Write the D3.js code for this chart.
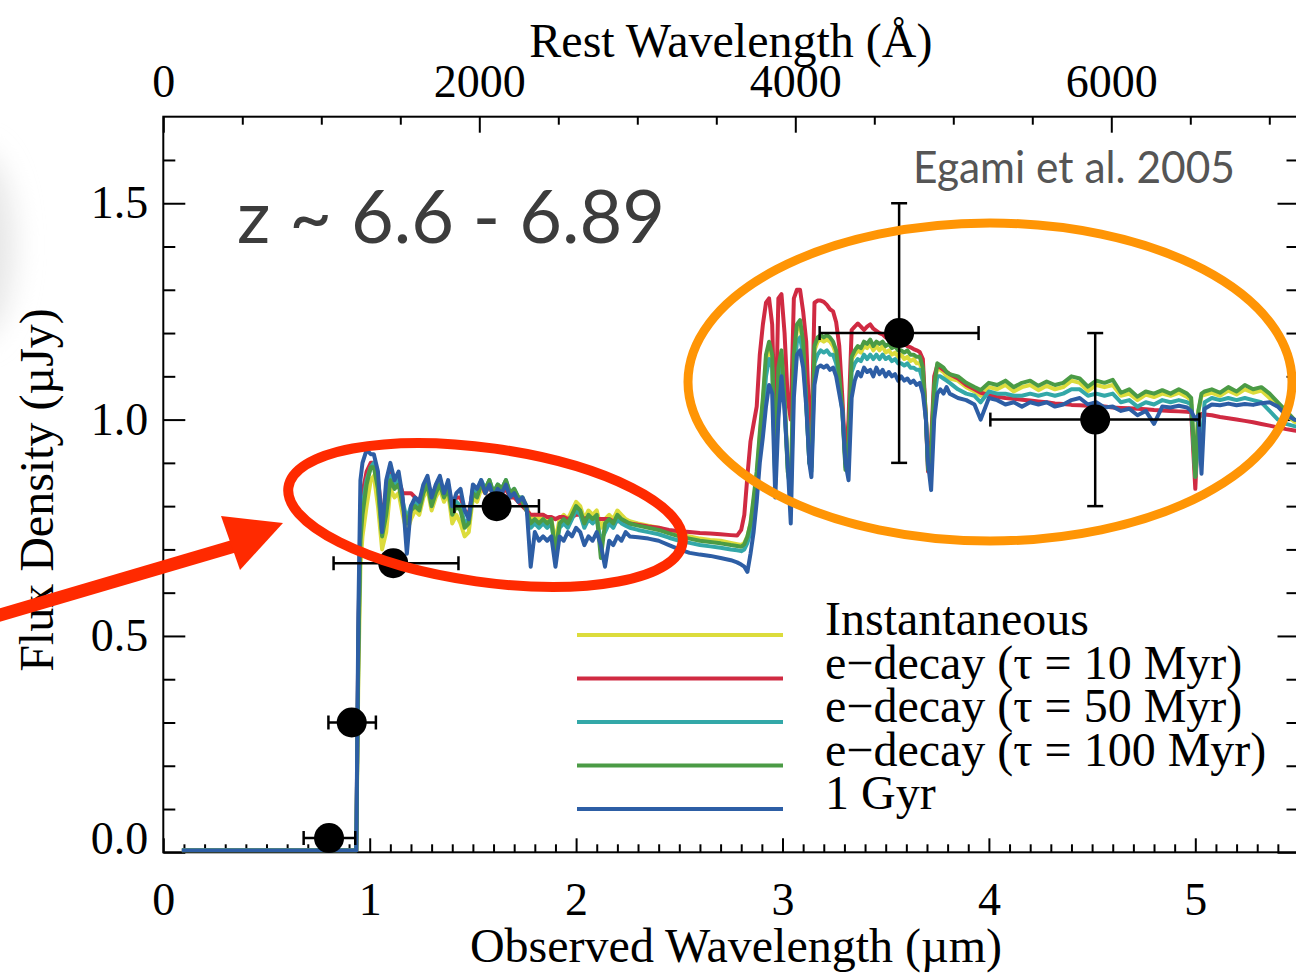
<!DOCTYPE html>
<html>
<head>
<meta charset="utf-8">
<script src="https://cdn.jsdelivr.net/npm/d3@7"></script>
<style>
  html, body { margin: 0; padding: 0; background: #fff; }
  svg { display: block; }
</style>
</head>
<body>
<svg id="chart" width="1296" height="976"></svg>
<script>
// Observed-frame wavelength grid of the model spectra (µm)
const wavelength = [
  0.09, 0.925, 0.935, 0.945, 0.955, 0.965, 0.985, 1.005,
  1.02, 1.04, 1.06, 1.08, 1.10, 1.12, 1.14, 1.16, 1.18, 1.20, 1.22, 1.24, 1.26, 1.28, 1.30, 1.32, 1.34, 1.36, 1.38, 1.40, 1.42, 1.44, 1.46, 1.48, 1.50, 1.52, 1.54, 1.56, 1.58, 1.60, 1.62, 1.64, 1.66, 1.68, 1.70, 1.72, 1.74, 1.76,
  1.78, 1.80, 1.82, 1.84, 1.86, 1.88, 1.90, 1.92, 1.94, 1.96, 1.98, 2.00, 2.02, 2.04, 2.06, 2.08, 2.10, 2.12, 2.14, 2.16, 2.18, 2.20, 2.22, 2.24, 2.26,
  2.30, 2.35, 2.40, 2.45, 2.50, 2.55, 2.60, 2.65, 2.70, 2.75, 2.78,
  2.80, 2.815, 2.83, 2.845, 2.86, 2.875, 2.89, 2.905, 2.92, 2.935, 2.95, 2.965, 2.98, 2.995, 3.01, 3.025, 3.04, 3.055, 3.07, 3.085, 3.10, 3.115, 3.13,
  3.14,
  3.155, 3.17, 3.185, 3.20, 3.215, 3.23, 3.245, 3.26, 3.275, 3.29, 3.305, 3.32, 3.335, 3.35, 3.365, 3.38, 3.395, 3.41, 3.425, 3.44, 3.455, 3.47, 3.485, 3.50, 3.515, 3.53, 3.545, 3.56, 3.575, 3.59, 3.605, 3.62, 3.635, 3.65, 3.665, 3.68,
  3.695, 3.705,
  3.72, 3.735, 3.75, 3.765, 3.78, 3.795, 3.81,
  3.85, 3.89, 3.93, 3.96, 4.00, 4.04, 4.08, 4.12, 4.16, 4.20, 4.24, 4.28, 4.32, 4.36, 4.40, 4.44, 4.48, 4.52, 4.56, 4.60, 4.64, 4.68, 4.72, 4.76, 4.80, 4.84, 4.88, 4.92, 4.96, 4.98, 5.00, 5.015, 5.03, 5.045, 5.08, 5.12, 5.16, 5.20, 5.24, 5.28, 5.32, 5.36, 5.40, 5.44, 5.48, 5.52
];

// Model flux densities (µJy) for each star-formation history
const fluxInstantaneous = [
  0.004, 0.004, 0.004, 0.40, 0.66, 0.73, 0.80, 0.86,
  0.87, 0.80, 0.70, 0.74, 0.84, 0.82, 0.83, 0.78, 0.74, 0.77, 0.79, 0.78, 0.82, 0.84, 0.79, 0.82, 0.84, 0.81, 0.83, 0.76, 0.78, 0.76, 0.73, 0.74, 0.82, 0.81, 0.84, 0.83, 0.85, 0.82, 0.84, 0.83, 0.85, 0.82, 0.83, 0.82, 0.82, 0.80,
  0.77, 0.78, 0.77, 0.78, 0.77, 0.77, 0.72, 0.77, 0.78, 0.77, 0.79, 0.81, 0.80, 0.77, 0.79, 0.78, 0.79, 0.75, 0.77, 0.78, 0.77, 0.79, 0.78, 0.77, 0.765,
  0.76, 0.755, 0.75, 0.742, 0.735, 0.73, 0.725, 0.722, 0.72, 0.715, 0.712,
  0.71, 0.715, 0.73, 0.76, 0.81, 0.87, 0.96, 1.04, 1.13, 1.17, 1.14, 0.87, 1.11, 1.15, 1.05, 0.90, 0.85, 1.13, 1.21, 1.22, 1.17, 1.05, 0.91,
  0.90,
  1.16, 1.18, 1.185, 1.18, 1.185, 1.18, 1.17, 1.15, 1.10, 1.03, 0.90, 0.95, 1.14, 1.15, 1.16, 1.155, 1.17, 1.165, 1.175, 1.16, 1.17, 1.16, 1.17, 1.155, 1.16, 1.15, 1.155, 1.145, 1.15, 1.14, 1.145, 1.135, 1.14, 1.13, 1.13, 1.11,
  1.01, 0.90,
  0.93, 1.07, 1.12, 1.115, 1.11, 1.10, 1.095,
  1.09, 1.075, 1.065, 1.055, 1.075, 1.07, 1.08, 1.065, 1.075, 1.08, 1.068, 1.078, 1.07, 1.075, 1.09, 1.085, 1.066, 1.08, 1.075, 1.08, 1.055, 1.06, 1.045, 1.058, 1.052, 1.06, 1.055, 1.062, 1.052, 1.045, 0.87, 1.02, 1.055, 1.057, 1.062, 1.055, 1.067, 1.058, 1.07, 1.062, 1.067, 1.05, 1.032, 1.012, 0.995, 0.99
];
const fluxTau10 = [
  0.004, 0.004, 0.004, 0.50, 0.78, 0.83, 0.88, 0.90,
  0.90, 0.86, 0.78, 0.82, 0.88, 0.85, 0.86, 0.83, 0.83, 0.83, 0.82, 0.81, 0.84, 0.86, 0.82, 0.84, 0.86, 0.83, 0.85, 0.80, 0.82, 0.82, 0.79, 0.78, 0.84, 0.83, 0.85, 0.83, 0.85, 0.82, 0.84, 0.83, 0.84, 0.82, 0.82, 0.81, 0.80, 0.79,
  0.78, 0.78, 0.78, 0.78, 0.775, 0.775, 0.77, 0.775, 0.775, 0.77, 0.775, 0.78, 0.78, 0.77, 0.775, 0.77, 0.77, 0.77, 0.77, 0.77, 0.765, 0.765, 0.765, 0.76, 0.76,
  0.757, 0.753, 0.75, 0.745, 0.742, 0.74, 0.738, 0.737, 0.735, 0.733, 0.732,
  0.745, 0.78, 0.87, 0.95, 0.99, 1.03, 1.15, 1.22, 1.27, 1.28, 1.22, 0.95, 1.28, 1.29, 1.20, 1.05, 1.00, 1.28, 1.30, 1.30, 1.25, 1.18, 1.00,
  0.95,
  1.27, 1.275, 1.275, 1.272, 1.265, 1.255, 1.25, 1.225, 1.17, 1.05, 0.90, 1.00, 1.207, 1.215, 1.222, 1.215, 1.207, 1.215, 1.22, 1.21, 1.205, 1.20, 1.197, 1.19, 1.19, 1.187, 1.185, 1.183, 1.18, 1.175, 1.17, 1.167, 1.163, 1.16, 1.156, 1.14,
  1.00, 0.88,
  0.95, 1.10, 1.125, 1.12, 1.115, 1.11, 1.105,
  1.095, 1.08, 1.07, 1.062, 1.057, 1.053, 1.05, 1.048, 1.046, 1.044, 1.042, 1.04, 1.037, 1.036, 1.034, 1.033, 1.032, 1.031, 1.03, 1.028, 1.027, 1.026, 1.025, 1.024, 1.022, 1.021, 1.02, 1.019, 1.018, 1.017, 0.84, 1.00, 1.013, 1.012, 1.01, 1.006, 1.003, 1.00, 0.997, 0.994, 0.99, 0.986, 0.982, 0.978, 0.975, 0.972
];
const fluxTau50 = [
  0.004, 0.004, 0.004, 0.48, 0.75, 0.80, 0.86, 0.89,
  0.90, 0.85, 0.74, 0.80, 0.87, 0.85, 0.86, 0.81, 0.77, 0.80, 0.81, 0.80, 0.84, 0.86, 0.81, 0.84, 0.86, 0.83, 0.85, 0.79, 0.81, 0.80, 0.76, 0.77, 0.84, 0.83, 0.86, 0.84, 0.86, 0.83, 0.85, 0.84, 0.86, 0.83, 0.84, 0.82, 0.82, 0.79,
  0.75, 0.76, 0.75, 0.76, 0.75, 0.76, 0.70, 0.75, 0.76, 0.75, 0.77, 0.79, 0.78, 0.75, 0.77, 0.76, 0.77, 0.72, 0.74, 0.76, 0.75, 0.77, 0.76, 0.755, 0.75,
  0.745, 0.74, 0.735, 0.727, 0.72, 0.715, 0.71, 0.707, 0.704, 0.70, 0.698,
  0.696, 0.70, 0.715, 0.74, 0.79, 0.85, 0.94, 1.01, 1.10, 1.14, 1.12, 0.85, 1.09, 1.13, 1.03, 0.89, 0.82, 1.10, 1.18, 1.19, 1.15, 1.04, 0.90,
  0.88,
  1.13, 1.15, 1.16, 1.155, 1.16, 1.15, 1.15, 1.13, 1.08, 1.02, 0.89, 0.92, 1.11, 1.13, 1.14, 1.135, 1.15, 1.14, 1.15, 1.14, 1.15, 1.14, 1.15, 1.14, 1.145, 1.135, 1.14, 1.13, 1.13, 1.125, 1.13, 1.12, 1.12, 1.115, 1.115, 1.09,
  1.00, 0.89,
  0.90, 1.05, 1.10, 1.10, 1.095, 1.09, 1.085,
  1.07, 1.06, 1.055, 1.04, 1.065, 1.06, 1.06, 1.055, 1.055, 1.06, 1.055, 1.06, 1.055, 1.06, 1.07, 1.07, 1.055, 1.06, 1.055, 1.06, 1.04, 1.045, 1.03, 1.04, 1.035, 1.045, 1.04, 1.045, 1.04, 1.035, 0.868, 0.95, 0.94, 1.04, 1.05, 1.045, 1.05, 1.045, 1.05, 1.045, 1.04, 1.02, 1.00, 0.99, 0.985, 0.98
];
const fluxTau100 = [
  0.004, 0.004, 0.004, 0.45, 0.72, 0.78, 0.85, 0.89,
  0.89, 0.84, 0.73, 0.78, 0.86, 0.84, 0.85, 0.80, 0.76, 0.79, 0.80, 0.79, 0.83, 0.85, 0.80, 0.83, 0.85, 0.82, 0.84, 0.78, 0.80, 0.79, 0.75, 0.76, 0.83, 0.82, 0.85, 0.84, 0.86, 0.83, 0.85, 0.84, 0.86, 0.83, 0.84, 0.82, 0.81, 0.79,
  0.76, 0.77, 0.76, 0.77, 0.76, 0.77, 0.69, 0.76, 0.77, 0.76, 0.78, 0.80, 0.79, 0.76, 0.78, 0.77, 0.78, 0.68, 0.76, 0.77, 0.76, 0.78, 0.77, 0.765, 0.76,
  0.755, 0.75, 0.745, 0.737, 0.73, 0.725, 0.72, 0.717, 0.714, 0.71, 0.708,
  0.706, 0.712, 0.73, 0.76, 0.82, 0.88, 0.97, 1.05, 1.15, 1.18, 1.15, 0.86, 1.12, 1.16, 1.05, 0.88, 0.84, 1.15, 1.22, 1.23, 1.18, 1.04, 0.90,
  0.89,
  1.17, 1.19, 1.195, 1.19, 1.195, 1.19, 1.18, 1.16, 1.10, 1.02, 0.884, 0.95, 1.145, 1.16, 1.17, 1.165, 1.18, 1.175, 1.185, 1.17, 1.18, 1.175, 1.18, 1.17, 1.175, 1.165, 1.17, 1.16, 1.16, 1.155, 1.16, 1.15, 1.15, 1.145, 1.145, 1.12,
  1.00, 0.884,
  0.93, 1.08, 1.13, 1.125, 1.12, 1.11, 1.105,
  1.10, 1.085, 1.075, 1.068, 1.085, 1.08, 1.09, 1.075, 1.085, 1.09, 1.078, 1.088, 1.08, 1.085, 1.10, 1.095, 1.076, 1.09, 1.085, 1.092, 1.062, 1.07, 1.053, 1.065, 1.06, 1.068, 1.06, 1.07, 1.06, 1.05, 0.868, 1.02, 1.06, 1.065, 1.07, 1.062, 1.075, 1.065, 1.08, 1.07, 1.075, 1.06, 1.04, 1.02, 1.00, 0.995
];
const flux1Gyr = [
  0.004, 0.004, 0.004, 0.55, 0.86, 0.90, 0.93, 0.92,
  0.92, 0.88, 0.74, 0.86, 0.90, 0.86, 0.88, 0.82, 0.69, 0.80, 0.82, 0.81, 0.85, 0.87, 0.82, 0.85, 0.87, 0.83, 0.86, 0.80, 0.83, 0.84, 0.79, 0.77, 0.85, 0.84, 0.86, 0.83, 0.85, 0.82, 0.84, 0.83, 0.85, 0.82, 0.83, 0.81, 0.82, 0.80,
  0.66, 0.74, 0.72, 0.73, 0.72, 0.73, 0.66, 0.73, 0.72, 0.74, 0.73, 0.75, 0.74, 0.71, 0.73, 0.72, 0.74, 0.71, 0.66, 0.72, 0.71, 0.73, 0.72, 0.74, 0.73,
  0.728, 0.725, 0.72, 0.71, 0.70, 0.692, 0.688, 0.685, 0.68, 0.675, 0.67,
  0.665, 0.66, 0.648, 0.69, 0.74, 0.81, 0.90, 0.96, 1.03, 1.08, 1.06, 0.82, 1.00, 1.10, 1.02, 0.90, 0.76, 1.05, 1.15, 1.16, 1.12, 1.03, 0.90,
  0.867,
  1.08, 1.12, 1.125, 1.12, 1.125, 1.115, 1.12, 1.10, 1.06, 1.02, 0.90, 0.86, 1.05, 1.09, 1.11, 1.10, 1.12, 1.11, 1.115, 1.10, 1.12, 1.105, 1.115, 1.10, 1.11, 1.10, 1.105, 1.09, 1.10, 1.09, 1.095, 1.085, 1.09, 1.08, 1.085, 1.06,
  1.00, 0.90,
  0.837, 1.00, 1.06, 1.07, 1.06, 1.075, 1.06,
  1.05, 1.045, 1.035, 1.00, 1.05, 1.045, 1.035, 1.04, 1.03, 1.04, 1.035, 1.04, 1.03, 1.035, 1.045, 1.05, 1.035, 1.04, 1.028, 1.03, 1.02, 1.025, 1.01, 1.02, 0.99, 1.03, 1.028, 1.032, 1.028, 1.02, 1.00, 1.01, 0.875, 1.025, 1.035, 1.033, 1.037, 1.033, 1.036, 1.034, 1.038, 1.04, 1.03, 1.01, 1.00, 0.995
];

const seriesNames = ["Instantaneous", "e\u2212decay (\u03c4 = 10 Myr)", "e\u2212decay (\u03c4 = 50 Myr)", "e\u2212decay (\u03c4 = 100 Myr)", "1 Gyr"];
const seriesValues = [fluxInstantaneous, fluxTau10, fluxTau50, fluxTau100, flux1Gyr];
const seriesColors = ["#dcdc3c", "#d02a42", "#33a8a8", "#4b9b45", "#2d5ea5"];

// Broad-band photometry (observed µm, µJy) with error ranges
const photWave = [0.803, 0.913, 1.114, 1.615, 3.565, 4.515];
const photFlux = [0.033, 0.30, 0.668, 0.80, 1.20, 1.00];
const photWaveLo = [0.68, 0.80, 0.825, 1.41, 3.18, 4.007];
const photWaveHi = [0.93, 1.03, 1.43, 1.82, 3.95, 5.02];
const photFluxLo = [0.033, 0.30, 0.668, 0.80, 0.90, 0.80];
const photFluxHi = [0.033, 0.30, 0.668, 0.80, 1.50, 1.20];

// Axis ticks
const obsTicks = [0, 1, 2, 3, 4, 5];
const restTicks = [0, 2000, 4000, 6000];
const fluxTicks = [0.0, 0.5, 1.0, 1.5];
const onePlusZ = 7.655;

const serif = "'Liberation Serif', 'Times New Roman', serif";
const sans = "Lato, 'Open Sans', sans-serif";

const svg = d3.select("#chart");
const plotLeft = 163.3, plotRight = 1298.5, plotTop = 116.7, plotBottom = 852.3;

const x = d3.scaleLinear().domain([0, 5.5]).range([plotLeft, plotRight]);
const xRest = d3.scaleLinear().domain([0, 5.5e4 / onePlusZ]).range([plotLeft, plotRight]);
const y = d3.scaleLinear().domain([0, 1.7]).range([plotBottom, plotTop]);

const defs = svg.append("defs");
defs.append("clipPath").attr("id", "plotClip")
  .append("rect")
  .attr("x", plotLeft).attr("y", plotTop)
  .attr("width", plotRight - plotLeft).attr("height", plotBottom - plotTop);
defs.append("filter").attr("id", "soft")
  .attr("x", "-100%").attr("y", "-100%").attr("width", "300%").attr("height", "300%")
  .append("feGaussianBlur").attr("stdDeviation", 14);

// faint grey shadow on the left slide edge
svg.append("ellipse")
  .attr("cx", -24).attr("cy", 245).attr("rx", 38).attr("ry", 95)
  .attr("fill", "#e6e6e6").attr("filter", "url(#soft)");

// ---- axes ----
function styleAxis(g, fontSize) {
  g.select(".domain").remove();
  g.selectAll(".tick line").attr("stroke", "#000").attr("stroke-width", 2);
  g.selectAll(".tick text")
    .attr("font-family", serif).attr("font-size", fontSize).attr("fill", "#000");
}

const minorObs = d3.range(1, 55).map(i => i / 10).filter(v => Math.abs(v - Math.round(v)) > 1e-6);
const minorRest = d3.range(500, 7200, 500).filter(v => v % 2000 !== 0);
const minorFlux = d3.range(1, 17).map(i => i / 10).filter(v => Math.abs(v * 2 - Math.round(v * 2)) > 1e-6);

// bottom
svg.append("g").attr("transform", `translate(0,${plotBottom})`)
  .call(d3.axisBottom(x).tickValues(minorObs).tickSizeInner(-8).tickSizeOuter(0).tickFormat(""))
  .call(g => styleAxis(g, 46));
svg.append("g").attr("transform", `translate(0,${plotBottom})`)
  .call(d3.axisBottom(x).tickValues(obsTicks).tickSizeInner(-14).tickSizeOuter(0).tickPadding(30).tickFormat(d3.format("d")))
  .call(g => styleAxis(g, 46));

// top (rest frame)
svg.append("g").attr("transform", `translate(0,${plotTop})`)
  .call(d3.axisTop(xRest).tickValues(minorRest).tickSizeInner(-8).tickSizeOuter(0).tickFormat(""))
  .call(g => styleAxis(g, 46));
svg.append("g").attr("transform", `translate(0,${plotTop})`)
  .call(d3.axisTop(xRest).tickValues(restTicks).tickSizeInner(-16).tickSizeOuter(0).tickPadding(20).tickFormat(d3.format("d")))
  .call(g => styleAxis(g, 46));

// left
svg.append("g").attr("transform", `translate(${plotLeft},0)`)
  .call(d3.axisLeft(y).tickValues(minorFlux).tickSizeInner(-12).tickSizeOuter(0).tickFormat(""))
  .call(g => styleAxis(g, 46));
svg.append("g").attr("transform", `translate(${plotLeft},0)`)
  .call(d3.axisLeft(y).tickValues(fluxTicks).tickSizeInner(-22).tickSizeOuter(0).tickPadding(15).tickFormat(d3.format(".1f")))
  .call(g => styleAxis(g, 46))
  .call(g => g.selectAll(".tick text").filter(d => d === 0).attr("y", -14));

// right
svg.append("g").attr("transform", `translate(${plotRight},0)`)
  .call(d3.axisRight(y).tickValues(minorFlux).tickSizeInner(-12).tickSizeOuter(0).tickFormat(""))
  .call(g => styleAxis(g, 46));
svg.append("g").attr("transform", `translate(${plotRight},0)`)
  .call(d3.axisRight(y).tickValues(fluxTicks).tickSizeInner(-21).tickSizeOuter(0).tickFormat(""))
  .call(g => styleAxis(g, 46));

// frame
svg.append("rect")
  .attr("x", plotLeft).attr("y", plotTop)
  .attr("width", plotRight - plotLeft).attr("height", plotBottom - plotTop)
  .attr("fill", "none").attr("stroke", "#000").attr("stroke-width", 2);

// axis titles
svg.append("text")
  .attr("x", (plotLeft + plotRight) / 2).attr("y", 57)
  .attr("text-anchor", "middle")
  .attr("font-family", serif).attr("font-size", 48).attr("fill", "#000")
  .text("Rest Wavelength (\u00c5)");
svg.append("text")
  .attr("x", 736).attr("y", 962)
  .attr("text-anchor", "middle")
  .attr("font-family", serif).attr("font-size", 48).attr("fill", "#000")
  .text("Observed Wavelength (\u00b5m)");
svg.append("text")
  .attr("transform", "translate(53,490) rotate(-90)")
  .attr("text-anchor", "middle")
  .attr("font-family", serif).attr("font-size", 48).attr("fill", "#000")
  .text("Flux Density (\u00b5Jy)");

// ---- model spectra ----
const line = d3.line().x(d => x(d[0])).y(d => y(d[1]));
const spectra = svg.append("g").attr("clip-path", "url(#plotClip)");
seriesValues.forEach((vals, k) => {
  spectra.append("path")
    .datum(wavelength.map((w, i) => [w, vals[i]]))
    .attr("d", line)
    .attr("fill", "none")
    .attr("stroke", seriesColors[k])
    .attr("stroke-width", 4)
    .attr("stroke-linejoin", "round");
});

// ---- photometry ----
const phot = svg.append("g").attr("stroke", "#000").attr("stroke-width", 2.5);
photWave.forEach((w, i) => {
  const cy = y(photFlux[i]);
  const x0 = x(photWaveLo[i]), x1 = x(photWaveHi[i]);
  phot.append("line").attr("x1", x0).attr("x2", x1).attr("y1", cy).attr("y2", cy);
  phot.append("line").attr("x1", x0).attr("x2", x0).attr("y1", cy - 7).attr("y2", cy + 7);
  phot.append("line").attr("x1", x1).attr("x2", x1).attr("y1", cy - 7).attr("y2", cy + 7);
  if (photFluxHi[i] > photFluxLo[i]) {
    const cx = x(w), y0 = y(photFluxLo[i]), y1 = y(photFluxHi[i]);
    phot.append("line").attr("x1", cx).attr("x2", cx).attr("y1", y0).attr("y2", y1);
    phot.append("line").attr("x1", cx - 8).attr("x2", cx + 8).attr("y1", y0).attr("y2", y0);
    phot.append("line").attr("x1", cx - 8).attr("x2", cx + 8).attr("y1", y1).attr("y2", y1);
  }
});
svg.append("g").selectAll("circle")
  .data(photWave)
  .join("circle")
  .attr("cx", d => x(d))
  .attr("cy", (d, i) => y(photFlux[i]))
  .attr("r", 15)
  .attr("fill", "#000");

// ---- legend ----
const legend = svg.append("g");
seriesNames.forEach((name, k) => {
  const ly = 635 + k * 43.5;
  legend.append("line")
    .attr("x1", 577).attr("x2", 783).attr("y1", ly).attr("y2", ly)
    .attr("stroke", seriesColors[k]).attr("stroke-width", 4);
  legend.append("text")
    .attr("x", 825).attr("y", ly)
    .attr("font-family", serif).attr("font-size", 48).attr("fill", "#000")
    .text(name);
});

// ---- annotations ----
svg.append("text")
  .attr("x", 237).attr("y", 243)
  .attr("font-family", sans).attr("font-size", 73).attr("fill", "#3c3c3c")
  .attr("textLength", 428).attr("lengthAdjust", "spacingAndGlyphs")
  .text("z ~ 6.6 - 6.89");
svg.append("text")
  .attr("x", 913).attr("y", 183)
  .attr("font-family", sans).attr("font-size", 44).attr("fill", "#555")
  .attr("textLength", 322).attr("lengthAdjust", "spacingAndGlyphs")
  .text("Egami et al. 2005");

svg.append("ellipse")
  .attr("cx", 990).attr("cy", 382).attr("rx", 302).attr("ry", 159)
  .attr("fill", "none").attr("stroke", "#ff9505").attr("stroke-width", 9);

svg.append("ellipse")
  .attr("transform", "translate(485.5,515) rotate(8)")
  .attr("rx", 199).attr("ry", 67)
  .attr("fill", "none").attr("stroke", "#ff2a00").attr("stroke-width", 10);

svg.append("line")
  .attr("x1", -10).attr("y1", 618).attr("x2", 238).attr("y2", 545)
  .attr("stroke", "#ff2a00").attr("stroke-width", 13);
svg.append("polygon")
  .attr("points", "283,523 221,516 240,570")
  .attr("fill", "#ff2a00");
</script>
</body>
</html>
